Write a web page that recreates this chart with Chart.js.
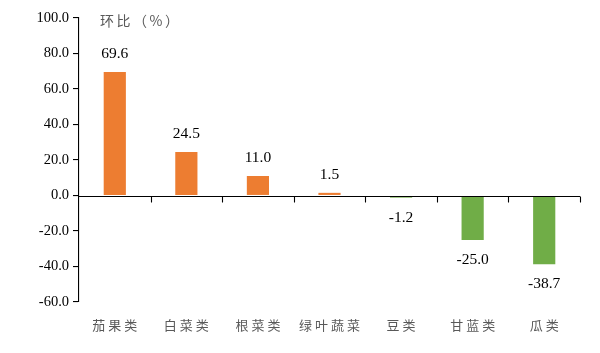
<!DOCTYPE html>
<html><head><meta charset="utf-8">
<script src="https://cdn.jsdelivr.net/npm/chart.js@4/dist/chart.umd.min.js"></script>
<style>html,body{margin:0;padding:0;background:#fff}#wrap{width:600px;height:353px}</style>
</head><body><div id="wrap"><canvas id="c" width="600" height="353"></canvas></div>
<script>
const categories = ["茄果类","白菜类","根菜类","绿叶蔬菜","豆类","甘蓝类","瓜类"];
const values = [69.6, 24.5, 11.0, 1.5, -1.2, -25.0, -38.7];
const yTicks = [100, 80, 60, 40, 20, 0, -20, -40, -60];
const titleText = "环比（%）";
const posColor = "#ED7D31", negColor = "#70AD47";

const overlay = {
  id: 'overlay',
  afterDatasetsDraw(chart) {
    const ctx = chart.ctx, x = chart.scales.x, y = chart.scales.y;
    const y0 = Math.round(y.getPixelForValue(0)) + 0.5;
    ctx.save();
    ctx.strokeStyle = '#000'; ctx.lineWidth = 1.1;
    ctx.beginPath();
    ctx.moveTo(chart.chartArea.left, y0); ctx.lineTo(chart.chartArea.right, y0);
    const n = categories.length;
    const w = (chart.chartArea.right - chart.chartArea.left) / n;
    for (let i = 1; i <= n; i++) {
      const px = Math.round(chart.chartArea.left + i * w) + 0.5;
      ctx.moveTo(px, y0); ctx.lineTo(px, y0 + 6);
    }
    ctx.stroke();
    // value labels
    ctx.fillStyle = '#000';
    ctx.font = '15.5px "Liberation Serif", "Times New Roman", serif';
    ctx.textAlign = 'center'; ctx.textBaseline = 'middle';
    const meta = chart.getDatasetMeta(0);
    meta.data.forEach((bar, i) => {
      const v = values[i];
      const ty = v >= 0 ? bar.y - 18 : bar.y + 20;
      ctx.fillText(v.toFixed(1), bar.x, ty);
    });
    // category labels
    ctx.fillStyle = '#595959';
    ctx.font = '13px "Noto Sans CJK SC", sans-serif';
    ctx.letterSpacing = '3px';
    categories.forEach((c, i) => {
      ctx.fillText(c, x.getPixelForValue(i) + 1.5, chart.chartArea.bottom + 23);
    });
    ctx.font = '14px "Noto Sans CJK SC", sans-serif';
    ctx.letterSpacing = '2.5px';
    ctx.textAlign = 'left';
    ctx.fillText(titleText, 100, 21);
    ctx.restore();
  }
};

new Chart(document.getElementById('c'), {
  type: 'bar',
  data: {
    labels: categories,
    datasets: [{
      data: values,
      backgroundColor: values.map(v => v >= 0 ? posColor : negColor),
      barPercentage: 0.31, categoryPercentage: 1.0
    }]
  },
  options: {
    responsive: false, animation: false,
    layout: { padding: { top: 18, right: 20, left: 0, bottom: 0 } },
    plugins: { legend: { display: false }, tooltip: { enabled: false } },
    scales: {
      x: {
        grid: { display: false }, border: { display: false },
        ticks: { display: false },
        afterFit(s) { s.height = 51; }
      },
      y: {
        min: -60, max: 100,
        afterBuildTicks(s) { s.ticks = yTicks.map(v => ({ value: v })); },
        grid: { drawOnChartArea: false, drawTicks: true, tickLength: 6, color: '#000', lineWidth: 1.1 },
        border: { display: true, color: '#000', width: 1.1 },
        ticks: { color: '#000', padding: 4, font: { family: '"Liberation Serif", serif', size: 14.5 },
          callback: v => Number(v).toFixed(1) },
        afterFit(s) { s.width = 79; }
      }
    }
  },
  plugins: [overlay]
});
</script></body></html>
